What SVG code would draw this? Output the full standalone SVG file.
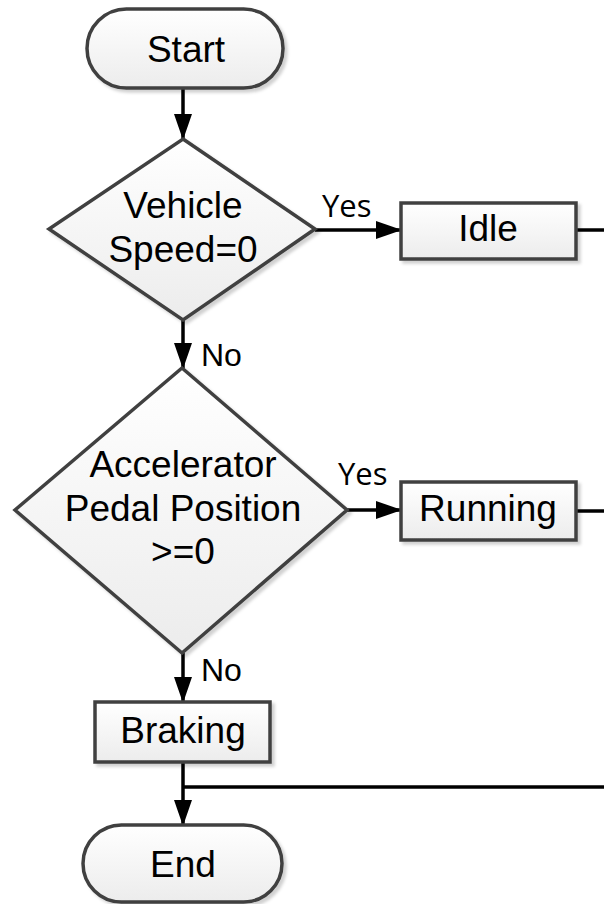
<svg xmlns="http://www.w3.org/2000/svg" width="604" height="904" viewBox="0 0 604 904">
<defs>
<linearGradient id="g" x1="0" y1="0" x2="0" y2="1">
<stop offset="0" stop-color="#ffffff"/>
<stop offset="1" stop-color="#ececec"/>
</linearGradient>
<filter id="sh" x="-10%" y="-10%" width="130%" height="130%">
<feDropShadow dx="3" dy="3" stdDeviation="1.5" flood-color="#000" flood-opacity="0.18"/>
</filter>
<marker id="ar" markerWidth="26" markerHeight="18" refX="25" refY="9" orient="auto" markerUnits="userSpaceOnUse">
<path d="M0,0 L26,9 L0,18 Z" fill="#000"/>
</marker>
</defs>
<style>
.s{fill:url(#g);stroke:#404040;stroke-width:3.5;filter:url(#sh)}
.t{font-family:"Liberation Sans",Arial,sans-serif;font-size:37px;fill:#000;text-anchor:middle}
.y{font-family:"Open Sans","DejaVu Sans",sans-serif;font-size:31px;fill:#000}
.n{font-family:"Liberation Sans",Arial,sans-serif;font-size:32px;fill:#000}
.c{stroke:#000;stroke-width:3.5;fill:none}
</style>
<rect width="604" height="904" fill="#fff"/>
<g id="connectors">
<line class="c" x1="183" y1="88" x2="183" y2="139" marker-end="url(#ar)"/>
<line class="c" x1="315" y1="230" x2="401" y2="230" marker-end="url(#ar)"/>
<line class="c" x1="576" y1="230" x2="604" y2="230"/>
<line class="c" x1="183" y1="320" x2="183" y2="368" marker-end="url(#ar)"/>
<line class="c" x1="347" y1="510" x2="401" y2="510" marker-end="url(#ar)"/>
<line class="c" x1="576" y1="511" x2="604" y2="511"/>
<line class="c" x1="183" y1="653" x2="183" y2="702" marker-end="url(#ar)"/>
<line class="c" x1="183" y1="762" x2="183" y2="825" marker-end="url(#ar)"/>
<line class="c" x1="604" y1="787" x2="183" y2="787"/>
<text class="y" x="322" y="217">Yes</text>
<text class="y" x="338" y="485">Yes</text>
<text class="n" x="201" y="366">No</text>
<text class="n" x="201" y="681">No</text>
</g>
<g id="start">
<rect class="s" x="87" y="9" width="196" height="79" rx="39.5"/>
<text class="t" x="186" y="62">Start</text>
</g>
<g id="speed">
<polygon class="s" points="183,139 315,229 183,320 49,229"/>
<text class="t" x="183" y="218">Vehicle</text>
<text class="t" x="183" y="262">Speed=0</text>
</g>
<g id="idle">
<rect class="s" x="401" y="203" width="175" height="56"/>
<text class="t" x="488" y="241">Idle</text>
</g>
<g id="pedal">
<polygon class="s" points="182,368 347,510 182,653 15,510"/>
<text class="t" x="183" y="477">Accelerator</text>
<text class="t" x="183" y="521">Pedal Position</text>
<text class="t" x="183" y="564">&gt;=0</text>
</g>
<g id="running">
<rect class="s" x="401" y="482" width="175" height="58"/>
<text class="t" x="488" y="521">Running</text>
</g>
<g id="braking">
<rect class="s" x="95" y="702" width="175" height="60"/>
<text class="t" x="183" y="743">Braking</text>
</g>
<g id="end">
<rect class="s" x="83" y="825" width="199" height="77" rx="38.5"/>
<text class="t" x="183" y="877">End</text>
</g>
</svg>
